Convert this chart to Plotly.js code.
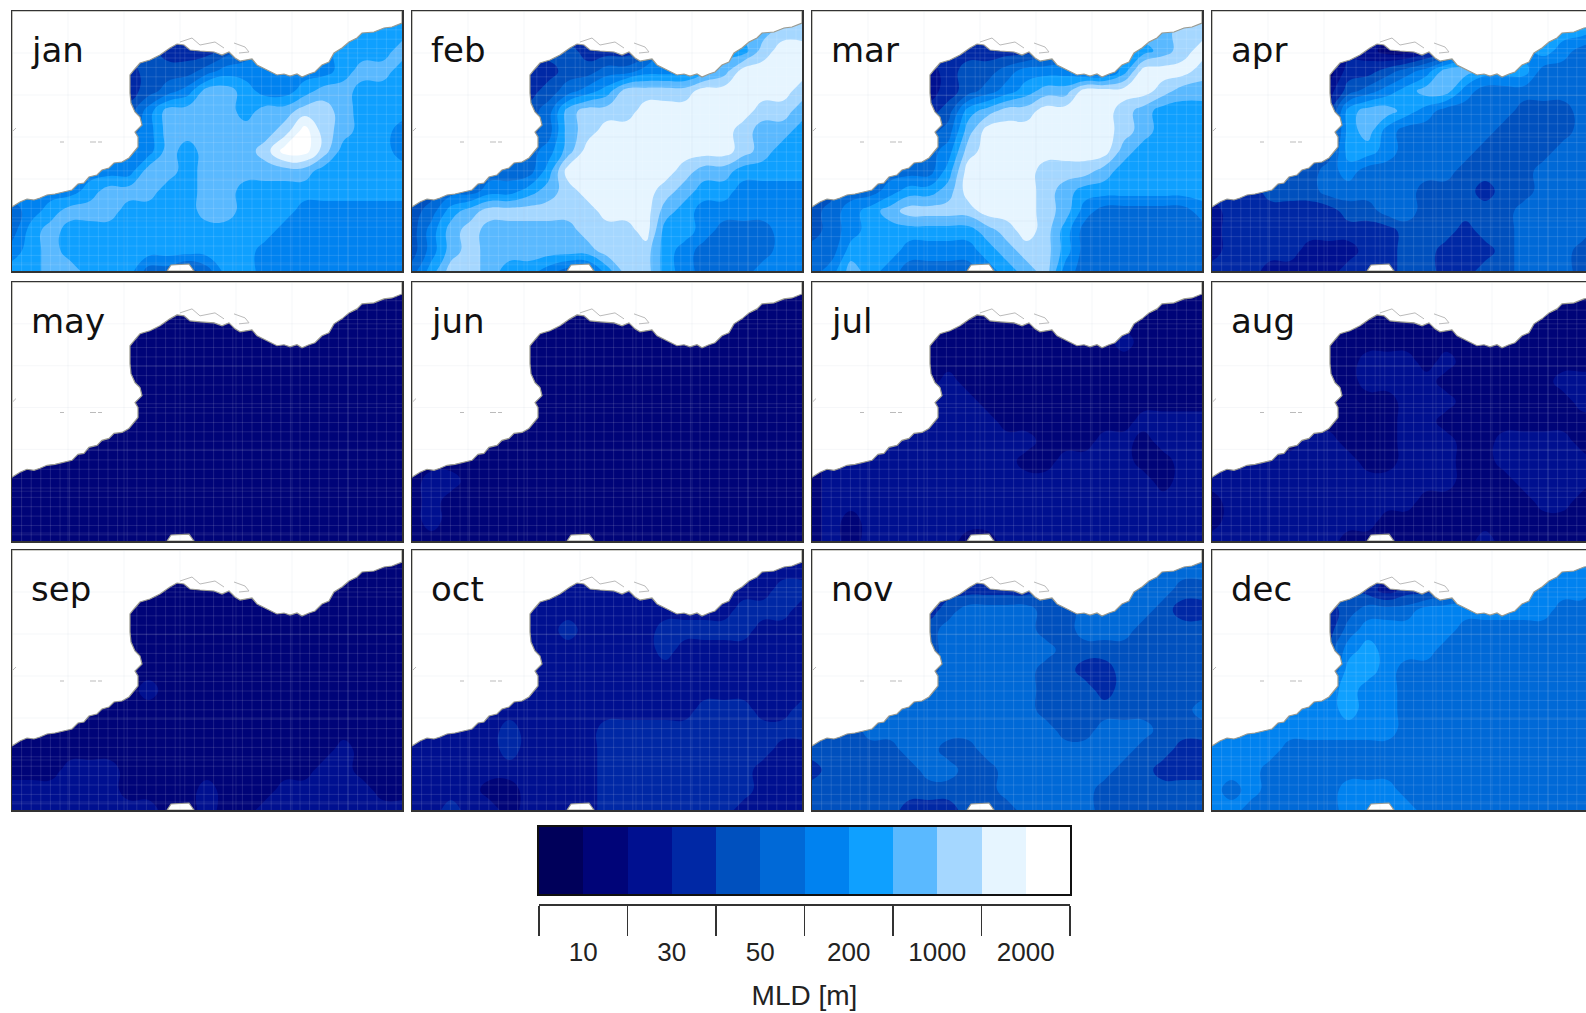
<!DOCTYPE html>
<html><head><meta charset="utf-8">
<script src="https://cdn.plot.ly/plotly-3.0.1.min.js"></script>
<style>html,body{margin:0;padding:0;background:#fff;overflow:hidden;width:1586px;height:1013px}#g{width:1620px;height:1013px}</style>
</head><body><div id="g"></div>
<script>
const months=['jan','feb','mar','apr','may','jun','jul','aug','sep','oct','nov','dec'];
const classColors=['#00005a','#000478','#001090','#0028a5','#0050be','#0069d7','#0082f0','#0fa0ff','#5ab9ff','#a5d7ff','#e6f5ff','#ffffff'];
const tickLabels=['10','30','50','200','1000','2000'];
const xGrid=[0,19.5,39,58.5,78,97.5,117,136.5,156,175.5,195,214.5,234,253.5,273,292.5,312,331.5,351,370.5,390];
const yGrid=[0,20,40,60,80,100,120,140,160,180,200,220,240,260];
const coastX=[0,8,15,22,28,35,43,52,60,66,72,77,85,90,97,102,110,117,122,126,126,123,130,128,123,119,118,118,122,128,138,148,158,165,172,178,188,202,210,217,223,228,240,245,255,265,272,278,285,290,297,303,310,317,322,330,337,345,350,362,372,380,390,390,0,0,null,155,159,177,182,155];
const coastY=[196,191,188,189,187,184,183,181,179,173,172,166,164,159,157,152,151,147,141,136,126,121,114,106,101,92,82,64,59,52,49,44,37,33,34,39,40,41,44,41,47,50,48,54,59,64,63,65,63,66,63,61,54,51,42,37,31,27,22,21,17,16,12,0,0,196,null,260,254,253,260,260];
const detailX=[168,180,188,197,203,212,null,222,233,237,227,null,48,52,null,78,84,null,86,90,null,1,4];
const detailY=[31,27,34,32,31,37,null,32,36,41,42,null,131,131,null,131,131,null,131,131,null,120,117];
const jan=[
[5,5,5,5,5,5,5,4,4,3,3,3,4,5,6,6,6,6,6,7,7],
[5,5,5,5,5,5,4,4,3,3,3,3,4,5,6,6,6,6,7,7,7],
[4,4,4,4,4,4,4,4,3,3,3,4,5,6,6,6,6,7,7,7,8],
[4,4,4,4,4,4,3,4,4,4,5,6,6,6,6,6,6,7,8,8,7],
[4,4,4,4,4,4,3,4,5,6,8,8,7,6,6,7,8,8,7,7,7],
[5,5,5,5,5,5,4,6,8,8,8,8,7,8,8,9,9,8,7,7,7],
[6,6,6,6,6,6,5,6,8,8,8,8,8,8,9,11,9,8,7,7,6],
[6,6,6,6,6,6,6,6,8,7,8,8,8,9,11,11,9,7,7,7,6],
[6,6,6,6,6,6,6,8,8,7,8,8,8,8,8,8,7,7,7,7,7],
[6,6,6,6,7,8,8,8,7,7,8,8,7,7,7,7,7,7,7,7,7],
[5,6,7,8,8,8,7,7,7,7,8,8,7,7,7,6,6,6,6,6,6],
[5,7,8,7,7,7,7,7,7,7,7,7,7,7,6,6,6,6,6,6,6],
[6,7,8,7,7,7,7,7,7,7,7,7,7,6,6,6,6,6,6,6,6],
[7,7,8,8,7,7,7,5,5,4,5,7,7,6,6,6,6,6,6,6,6]];
const feb=[
[6,6,6,6,6,6,6,5,4,3,3,3,4,5,6,7,7,7,8,8,8],
[6,6,6,6,6,6,5,4,3,3,3,3,4,5,6,6,7,8,8,9,9],
[5,5,5,5,5,5,4,4,4,3,3,3,4,6,6,6,7,7,9,10,10],
[5,5,5,5,5,5,3,3,4,4,5,5,6,6,6,7,8,10,10,10,10],
[5,5,5,5,5,5,3,4,5,6,7,9,9,9,9,10,10,10,10,10,9],
[5,5,5,5,5,5,4,5,8,9,9,9,10,10,10,10,10,10,9,9,8],
[5,5,5,5,5,5,4,5,8,9,10,10,10,10,10,10,10,9,8,8,7],
[5,5,5,5,5,5,5,6,8,10,10,10,10,10,10,10,10,9,8,7,7],
[5,5,5,5,5,5,5,7,10,10,10,10,10,10,9,8,8,7,7,7,7],
[4,4,5,5,6,6,7,8,9,10,10,10,10,9,8,7,7,6,6,6,6],
[4,5,7,8,9,9,9,9,9,9,10,10,10,8,7,6,6,6,6,6,6],
[4,6,8,9,8,8,8,8,8,9,9,9,10,7,7,6,5,5,5,6,6],
[4,6,8,9,8,8,8,8,8,8,9,9,9,7,6,5,5,5,5,6,6],
[5,7,9,9,8,7,7,6,5,5,7,9,9,7,6,5,5,5,6,6,6]];
const mar=[
[6,6,6,6,6,6,6,5,4,3,3,3,4,5,6,7,7,7,8,8,8],
[6,6,6,6,6,6,5,4,3,3,3,3,4,5,6,6,7,8,8,9,9],
[4,4,4,4,4,4,3,3,3,3,3,3,4,5,6,6,7,7,8,9,10],
[4,4,4,4,4,4,2,3,4,4,5,6,6,6,5,5,7,10,10,10,9],
[4,4,4,4,4,4,2,3,4,5,6,7,8,8,10,10,10,10,9,8,8],
[4,4,4,4,4,4,3,4,7,8,9,9,10,10,10,10,9,8,7,7,7],
[5,5,5,5,5,5,4,5,8,10,10,10,10,10,10,10,9,8,7,7,7],
[5,5,5,5,5,5,5,6,9,10,10,10,10,10,10,10,8,7,7,7,7],
[5,5,5,5,5,5,5,7,10,10,10,10,9,9,9,8,7,7,7,7,7],
[4,4,5,5,6,7,7,8,10,10,10,10,9,8,7,7,7,7,7,7,7],
[4,5,6,7,8,9,9,9,9,10,10,10,9,8,6,5,5,5,5,5,6],
[4,5,6,7,7,7,7,7,7,8,9,10,9,7,5,5,5,5,5,5,5],
[5,5,7,7,7,6,6,6,6,7,8,9,9,7,5,5,5,5,5,5,5],
[5,6,8,7,6,5,5,5,5,6,7,8,9,6,5,5,5,5,5,5,5]];
const apr=[
[3,3,3,3,3,3,3,3,2,2,2,2,3,5,6,6,6,6,6,6,6],
[3,3,3,3,3,3,3,2,2,2,2,2,3,5,6,6,6,6,7,7,6],
[3,3,3,3,3,3,2,2,2,1,1,2,3,5,6,6,6,7,6,5,5],
[3,3,3,3,3,3,1,3,3,4,5,6,8,8,7,7,7,5,5,5,5],
[3,3,3,3,3,3,2,4,5,6,7,8,8,6,5,5,5,5,5,5,5],
[3,3,3,3,3,3,3,7,8,8,7,6,5,5,5,5,4,4,4,5,5],
[4,4,4,4,4,4,3,7,8,6,5,5,5,5,5,4,4,4,4,5,5],
[4,4,4,4,4,4,4,7,7,6,5,5,5,5,4,4,4,4,5,5,5],
[4,4,4,4,4,4,5,6,5,5,5,5,5,4,4,4,4,5,5,5,5],
[3,3,3,4,4,4,5,5,5,5,5,4,4,4,3,4,4,5,5,5,5],
[2,3,3,3,3,3,3,4,4,5,5,4,4,4,4,4,5,5,5,5,5],
[2,3,3,3,3,3,3,3,3,3,4,4,4,3,4,4,5,5,5,5,4],
[2,3,3,3,3,2,2,2,3,3,4,4,3,3,3,4,5,5,5,4,4],
[3,3,3,2,2,2,2,3,3,3,4,4,3,3,4,4,5,5,5,4,4]];
const may=[
[0,0,0,0,0,0,0,0,1,1,1,1,1,1,1,1,1,1,1,1,1],
[1,1,1,1,1,1,1,1,1,1,1,1,1,1,1,1,1,1,1,1,1],
[1,1,1,1,1,1,1,1,1,1,1,1,1,1,1,1,1,1,1,1,1],
[1,1,1,1,1,1,1,1,1,1,1,1,1,1,1,1,1,1,1,1,1],
[1,1,1,1,1,1,1,1,1,1,1,1,1,1,1,1,1,1,1,1,1],
[1,1,1,1,1,1,1,1,1,1,1,1,1,1,1,1,1,1,1,1,1],
[1,1,1,1,1,1,1,1,1,1,1,1,1,1,1,1,1,1,1,1,1],
[1,1,1,1,1,1,1,1,1,1,1,1,1,1,1,1,1,1,1,1,1],
[1,1,1,1,1,1,1,1,1,1,1,1,1,1,1,1,1,1,1,1,1],
[1,1,1,1,1,1,1,1,1,1,1,1,1,1,1,1,1,1,1,1,1],
[1,1,1,1,1,1,1,1,1,1,1,1,1,1,1,1,1,1,1,1,1],
[1,1,1,1,1,1,1,1,1,1,1,1,1,1,1,1,1,1,1,1,1],
[1,1,1,1,1,1,1,1,1,1,1,1,1,1,1,1,1,1,1,1,1],
[1,1,1,1,1,1,1,1,1,1,1,1,1,1,1,1,1,1,1,1,1]];
const jun=[
[0,0,0,0,0,0,0,0,1,1,1,1,1,1,1,1,1,1,1,1,1],
[1,1,1,1,1,1,1,1,1,1,1,1,1,1,1,1,1,1,1,1,1],
[1,1,1,1,1,1,1,1,1,1,1,1,1,1,1,1,1,1,1,1,1],
[1,1,1,1,1,1,1,1,1,1,1,1,1,1,1,1,1,1,1,1,1],
[1,1,1,1,1,1,1,1,1,1,1,1,1,1,1,1,1,1,1,1,1],
[1,1,1,1,1,1,1,1,1,1,1,1,1,1,1,1,1,1,1,1,1],
[1,1,1,1,1,1,1,1,1,1,1,1,1,1,1,1,1,1,1,1,1],
[1,1,1,1,1,1,1,1,1,1,1,1,1,1,1,1,1,1,1,1,1],
[1,1,1,1,1,1,1,1,1,1,1,1,1,1,1,1,1,1,1,1,1],
[1,1,1,1,1,1,1,1,1,1,1,1,1,1,1,1,1,1,1,1,1],
[1,2,2,1,1,1,1,1,1,1,1,1,1,1,1,1,1,1,1,1,1],
[1,2,1,1,1,1,1,1,1,1,1,1,1,1,1,1,1,1,1,1,1],
[1,2,1,1,1,1,1,1,1,1,1,1,1,1,1,1,1,1,1,1,1],
[1,1,1,1,1,1,1,1,1,1,1,1,1,1,1,1,1,1,1,1,1]];
const jul=[
[1,1,1,1,1,1,1,1,1,1,1,1,1,1,1,1,1,1,1,1,1],
[1,1,1,1,1,1,1,1,1,1,1,1,1,1,1,1,1,1,1,1,1],
[1,1,1,1,1,1,1,1,1,1,1,1,1,1,1,1,1,1,1,1,1],
[1,1,1,1,1,1,1,1,1,1,1,1,1,1,1,1,2,1,1,1,1],
[1,1,1,1,1,1,1,1,1,1,1,1,1,1,1,1,1,1,1,1,1],
[1,1,1,1,1,1,1,2,1,1,1,1,1,1,1,1,1,1,1,1,1],
[2,2,2,2,2,2,2,2,2,1,1,1,1,1,1,1,1,1,1,1,1],
[2,2,2,2,2,2,2,2,2,2,1,1,1,1,1,1,1,2,2,2,2],
[2,2,2,2,2,2,2,2,2,2,2,2,1,1,1,2,2,1,2,2,2],
[1,2,2,2,2,2,2,2,2,2,2,1,1,2,2,2,2,1,1,2,2],
[1,2,2,2,2,2,2,2,2,2,2,2,2,2,2,2,2,2,1,2,2],
[1,2,2,2,2,2,2,2,2,2,2,2,2,2,2,2,2,2,2,2,2],
[1,2,1,2,2,2,2,2,2,2,2,2,2,2,2,2,2,2,2,2,2],
[1,2,1,2,2,2,2,2,1,1,2,2,2,2,2,2,2,2,2,2,2]];
const aug=[
[1,1,1,1,1,1,1,1,1,1,1,1,1,1,1,1,1,1,1,1,1],
[1,1,1,1,1,1,1,1,1,1,1,1,1,1,1,1,1,1,1,1,1],
[1,1,1,1,1,1,1,1,1,1,1,1,1,1,1,1,1,1,1,1,1],
[1,1,1,1,1,1,1,1,1,1,1,1,1,1,1,1,1,1,1,1,1],
[1,1,1,1,1,1,1,1,2,2,2,1,2,1,1,1,1,1,1,1,1],
[1,1,1,1,1,1,1,1,2,2,2,2,1,1,1,1,1,1,2,2,2],
[1,1,1,1,1,1,1,1,1,1,2,2,2,1,1,1,1,1,1,2,2],
[1,1,1,1,1,1,1,1,1,1,2,2,1,1,1,1,1,1,1,1,1],
[1,1,1,1,1,2,2,1,1,1,2,2,2,1,1,2,2,2,2,1,1],
[2,2,2,2,2,2,2,2,1,1,2,2,2,1,1,2,2,2,2,2,1],
[2,2,2,2,2,2,2,2,2,2,2,2,2,1,1,1,2,2,2,2,1],
[1,2,2,2,2,2,2,2,2,2,2,1,1,1,1,1,1,2,2,1,1],
[1,2,2,2,2,2,2,2,2,1,1,1,1,1,1,1,1,1,1,1,1],
[2,2,2,2,2,2,2,1,1,1,1,1,1,1,2,1,1,1,1,1,1]];
const sep=[
[1,1,1,1,1,1,1,1,1,1,1,1,1,1,1,1,1,1,1,1,1],
[1,1,1,1,1,1,1,1,1,1,1,1,1,1,1,1,1,1,1,1,1],
[1,1,1,1,1,1,1,1,1,1,1,1,1,1,1,1,1,1,1,1,1],
[1,1,1,1,1,1,1,1,1,1,1,1,1,1,1,1,1,1,1,1,1],
[1,1,1,1,1,1,1,1,1,1,1,1,1,1,1,1,1,1,1,1,1],
[1,1,1,1,1,1,1,1,1,1,1,1,1,1,1,1,1,1,1,1,1],
[1,1,1,1,1,1,1,1,1,1,1,1,1,1,1,1,1,1,1,1,1],
[1,1,1,1,1,1,1,2,1,1,1,1,1,1,1,1,1,1,1,1,1],
[1,1,1,1,1,1,1,1,1,1,1,1,1,1,1,1,1,1,1,1,1],
[1,1,1,1,1,1,1,1,1,1,1,1,1,1,1,1,1,1,1,1,1],
[1,1,1,1,1,1,1,1,1,1,1,1,1,1,1,1,1,2,1,1,1],
[1,1,1,2,2,2,1,1,1,1,1,1,1,1,1,1,2,2,1,1,1],
[2,2,2,2,2,2,1,1,1,1,2,1,1,1,2,2,2,2,2,1,1],
[2,2,2,2,2,2,2,2,1,1,2,1,1,2,2,2,2,2,2,2,2]];
const oct=[
[2,2,2,2,2,2,2,2,2,2,2,2,2,2,2,2,2,2,2,2,2],
[2,2,2,2,2,2,2,2,2,2,2,2,2,2,2,2,2,2,2,2,2],
[2,2,2,2,2,2,2,2,2,2,2,2,2,2,2,2,2,2,2,3,3],
[2,2,2,2,2,2,2,2,2,2,2,2,2,2,2,2,2,3,3,3,2],
[2,2,2,2,2,2,2,2,3,2,2,2,2,3,3,3,3,3,2,2,2],
[2,2,2,2,2,2,2,2,2,2,2,2,2,3,2,2,2,2,2,2,2],
[2,2,2,2,2,2,2,2,2,2,2,2,2,2,2,2,2,2,2,2,2],
[2,2,2,2,2,2,2,2,2,2,2,2,2,2,2,2,2,2,2,2,2],
[2,2,2,2,2,2,2,2,2,2,2,2,2,2,2,3,3,3,2,2,3],
[2,2,2,2,2,3,2,2,2,2,3,3,3,3,3,3,3,3,3,3,3],
[2,2,2,2,2,3,2,2,2,2,3,3,3,3,3,3,3,3,3,2,2],
[2,2,2,2,2,2,2,2,2,2,3,3,3,3,3,3,3,3,2,2,2],
[2,2,2,2,1,1,2,2,2,2,3,3,3,3,3,3,3,3,2,2,2],
[2,2,3,2,2,1,2,2,2,2,3,3,3,3,3,3,3,2,2,2,2]];
const nov=[
[3,3,3,3,3,3,3,3,3,3,3,3,4,5,5,5,5,5,5,5,5],
[3,3,3,3,3,3,3,3,3,3,3,3,4,5,5,5,5,5,5,5,5],
[3,3,3,3,3,3,3,3,3,3,3,3,4,5,5,5,5,5,5,4,4],
[3,3,3,3,3,3,3,4,5,5,5,5,4,4,5,5,5,5,4,3,3],
[4,4,4,4,4,4,4,5,5,5,5,5,4,4,5,5,5,4,4,4,4],
[4,4,4,4,4,4,4,5,5,5,5,5,5,4,4,4,4,4,4,4,4],
[4,4,4,4,4,4,4,5,5,5,5,5,4,4,3,3,4,4,4,4,4],
[5,5,5,5,5,5,5,5,5,5,5,5,4,4,4,3,4,4,4,4,4],
[5,5,5,5,5,5,5,5,5,5,5,5,4,4,4,4,4,4,4,4,5],
[4,4,4,5,5,5,5,5,5,5,5,5,5,4,4,5,5,5,4,4,4],
[4,4,4,4,4,5,5,4,4,5,5,5,5,5,5,5,5,4,4,3,3],
[3,4,4,4,4,4,5,5,4,4,5,5,5,5,5,5,4,4,3,3,3],
[4,4,4,4,4,4,4,4,4,4,5,5,5,5,5,4,4,4,4,4,4],
[4,4,4,4,4,3,3,3,4,4,4,5,5,5,5,4,4,4,4,4,4]];
const dec=[
[4,4,4,4,4,4,4,4,3,3,3,3,4,6,6,6,6,6,6,6,6],
[4,4,4,4,4,4,4,4,3,3,3,3,4,6,6,6,6,6,6,6,6],
[4,4,4,4,4,4,4,4,3,2,3,3,4,5,6,6,6,6,6,6,5],
[4,4,4,4,4,4,3,4,5,5,5,6,6,6,6,6,6,6,5,5,5],
[4,4,4,4,4,4,3,5,6,6,6,6,6,5,5,5,5,5,5,5,5],
[5,5,5,5,5,5,4,6,7,6,6,6,5,5,5,5,5,5,5,5,5],
[5,5,5,5,5,5,4,7,7,6,5,5,5,5,5,5,5,5,5,5,5],
[6,6,6,6,6,6,6,7,6,6,5,5,5,5,5,5,5,5,5,5,5],
[6,6,6,6,6,6,6,7,6,6,5,5,5,5,5,5,5,5,5,5,5],
[6,6,6,6,6,6,6,6,6,6,5,5,5,5,5,5,5,5,5,5,5],
[6,6,6,6,5,5,5,5,5,5,5,5,5,5,5,5,5,5,5,5,5],
[6,6,6,5,5,5,5,5,5,5,5,5,5,5,5,5,5,5,5,5,5],
[6,5,6,5,5,5,5,6,6,6,5,5,5,5,5,5,5,5,5,5,5],
[6,6,5,5,5,5,5,6,6,6,6,5,5,5,5,5,5,5,5,5,5]];
const monthData=[jan,feb,mar,apr,may,jun,jul,aug,sep,oct,nov,dec];
const colLeft=[12,412,812,1212], colWidth=390;
const rowTop=[11,282,550], rowHeight=[260,259,260];
const W=1620,H=1013;
const dx=(a,b)=>[a/W,b/W], dy=(t,b)=>[1-b/H,1-t/H];
const scale=classColors.map((c,i)=>[i/11,c]);
const traces=[],annotations=[],layout={width:W,height:H,margin:{l:0,r:0,t:0,b:0},paper_bgcolor:'#fff',plot_bgcolor:'#fff',showlegend:false,annotations};
function gridLines(step,len,vertical){const a=[],b=[];for(let v=step;v<(vertical?390:260);v+=step){if(vertical){a.push(v,v,null);b.push(0,len,null);}else{a.push(0,len,null);b.push(v,v,null);}}return [a,b];}
const fv=gridLines(9.6,260,true),fh=gridLines(9.4,390,false);
const fineX=fv[0].concat(fh[0]),fineY=fv[1].concat(fh[1]);
const cv=gridLines(56,260,true),ch=gridLines(42,390,false);
const coarseX=cv[0].concat(ch[0]),coarseY=cv[1].concat(ch[1]);
months.forEach((m,i)=>{
  const c=i%4,r=Math.floor(i/4),n=i+1,xa='x'+n,ya='y'+n;
  const L=colLeft[c],T=rowTop[r],Hh=rowHeight[r];
  const frame={showline:true,mirror:true,linecolor:'#333',linewidth:1.5,showgrid:false,zeroline:false,showticklabels:false,ticks:''};
  layout['xaxis'+n]=Object.assign({domain:dx(L,L+colWidth),range:[0,390],anchor:ya},frame);
  layout['yaxis'+n]=Object.assign({domain:dy(T,T+Hh),range:[260,0],anchor:xa},frame);
  traces.push({type:'contour',x:xGrid,y:yGrid,z:monthData[i],xaxis:xa,yaxis:ya,colorscale:scale,showscale:false,autocontour:false,line:{width:0,smoothing:1.3},
    contours:{start:0.5,end:10.5,size:1,coloring:'fill',showlines:false},hoverinfo:'skip'});
  traces.push({type:'scatter',mode:'lines',x:fineX,y:fineY,xaxis:xa,yaxis:ya,line:{color:'rgba(255,255,255,0.12)',width:1},hoverinfo:'skip'});
  traces.push({type:'scatter',mode:'lines',x:coastX,y:coastY,xaxis:xa,yaxis:ya,fill:'toself',fillcolor:'#fff',line:{color:'#9a9a90',width:1.2},hoverinfo:'skip'});
  traces.push({type:'scatter',mode:'lines',x:detailX,y:detailY,xaxis:xa,yaxis:ya,line:{color:'#bbb',width:1},hoverinfo:'skip'});
  traces.push({type:'scatter',mode:'lines',x:coarseX,y:coarseY,xaxis:xa,yaxis:ya,line:{color:'rgba(190,200,215,0.14)',width:1},hoverinfo:'skip'});
  annotations.push({text:m,xref:'paper',yref:'paper',x:(L+17)/W,y:1-(T+39)/H,xanchor:'left',yanchor:'middle',showarrow:false,font:{family:'DejaVu Sans',size:34,color:'#111'}});
});
// colour bar
const barL=539,barR=1070;
layout.xaxis13={domain:dx(barL,barR),range:[-0.5,11.5],anchor:'y13',showline:true,mirror:true,linecolor:'#111',linewidth:2,showgrid:false,zeroline:false,showticklabels:false,ticks:''};
layout.yaxis13={domain:dy(827,894),range:[0,1],anchor:'x13',showline:true,mirror:true,linecolor:'#111',linewidth:2,showgrid:false,zeroline:false,showticklabels:false,ticks:''};
traces.push({type:'heatmap',x:classColors.map((_,k)=>k),y:[0,1],z:[classColors.map((_,k)=>k),classColors.map((_,k)=>k)],xaxis:'x13',yaxis:'y13',colorscale:scale,zmin:0,zmax:11,showscale:false,hoverinfo:'skip'});
layout.xaxis14={domain:dx(barL,barR),range:[0,12],anchor:'y14',side:'bottom',showline:true,linecolor:'#333',linewidth:1.5,showgrid:false,zeroline:false,showticklabels:false,ticks:'outside',ticklen:30,tickwidth:1.5,tickcolor:'#333',tickmode:'array',tickvals:[0,2,4,6,8,10,12]};
layout.yaxis14={domain:dy(902,904),range:[0,1],anchor:'x14',visible:false};
traces.push({type:'scatter',mode:'none',x:[0,12],y:[0,1],xaxis:'x14',yaxis:'y14',hoverinfo:'skip'});
layout.xaxis15={domain:dx(barL,barR),range:[0,12],anchor:'y15',side:'bottom',showline:false,showgrid:false,zeroline:false,ticks:'',tickmode:'array',tickvals:[1,3,5,7,9,11],ticktext:tickLabels,tickangle:0,tickfont:{family:'Liberation Sans',size:26,color:'#222'},
  title:{text:'MLD [m]',font:{family:'Liberation Sans',size:28,color:'#222'},standoff:19}};
layout.yaxis15={domain:dy(932,934),range:[0,1],anchor:'x15',visible:false};
traces.push({type:'scatter',mode:'none',x:[0,12],y:[0,1],xaxis:'x15',yaxis:'y15',hoverinfo:'skip'});
Plotly.newPlot('g',traces,layout,{staticPlot:true,displayModeBar:false});
</script></body></html>
